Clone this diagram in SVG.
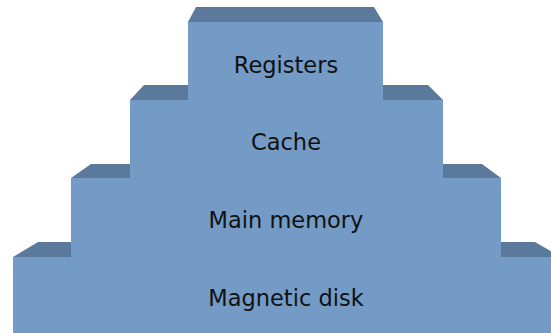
<svg xmlns="http://www.w3.org/2000/svg" width="551" height="333" viewBox="0 0 551 333">
  <style>
    .top { fill: #5b7a9b; }
    .front { fill: #739bc6; }
    .label { font-family: "DejaVu Sans", Verdana, sans-serif; font-size: 22.5px; fill: #111; text-anchor: middle; }
  </style>
  <rect width="551" height="333" fill="#ffffff"/>
  <!-- Stepped hierarchy, drawn from the widest tier upwards; each front face
       stops where the tier below begins, so it covers only that tier's top bevel -->
  <g id="magnetic-disk">
    <polygon class="top" points="38,242 535,242 561,257 13,257"/>
    <rect class="front" x="13" y="257" width="548" height="80"/>
    <text class="label" x="286" y="306">Magnetic disk</text>
  </g>
  <g id="main-memory">
    <polygon class="top" points="91,164 482,164 501,178 71,178"/>
    <rect class="front" x="71" y="178" width="430" height="79"/>
    <text class="label" x="286" y="228">Main memory</text>
  </g>
  <g id="cache">
    <polygon class="top" points="144,85 428,85 443,100 130,100"/>
    <rect class="front" x="130" y="100" width="313" height="78"/>
    <text class="label" x="286" y="150">Cache</text>
  </g>
  <g id="registers">
    <polygon class="top" points="196,7 374,7 383,22 188,22"/>
    <rect class="front" x="188" y="22" width="195" height="78"/>
    <text class="label" x="286" y="73">Registers</text>
  </g>
</svg>
